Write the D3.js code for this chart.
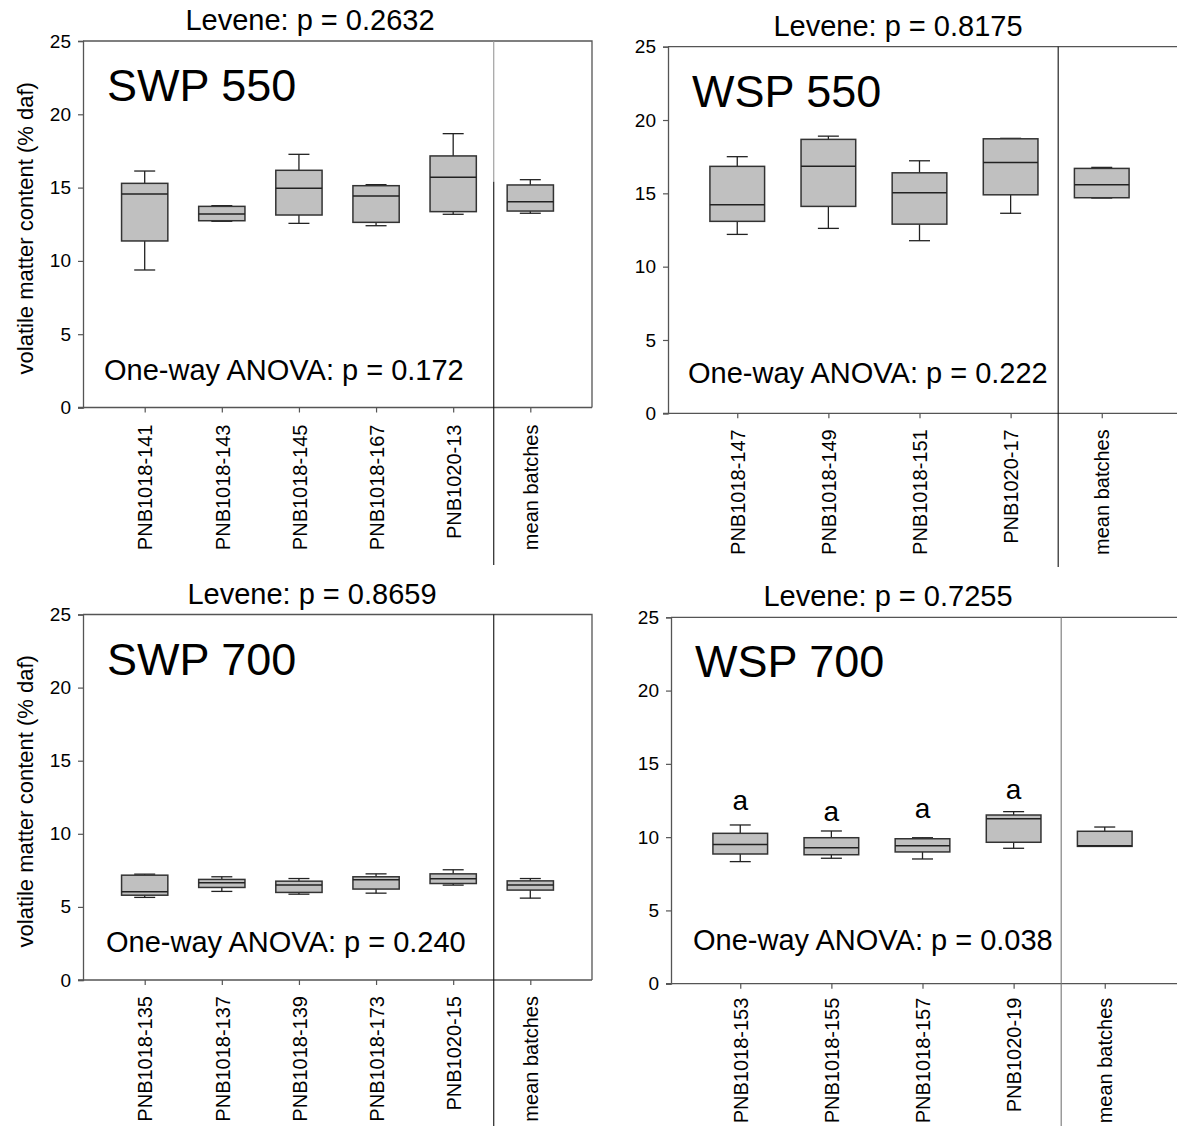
<!DOCTYPE html>
<html>
<head>
<meta charset="utf-8">
<title>Volatile matter content</title>
<script src="https://cdn.jsdelivr.net/npm/d3@7"></script>
<style>
  body { margin: 0; background: #fff; }
  svg text { font-family: "Liberation Sans", Arial, sans-serif; fill: #000; }
</style>
</head>
<body>
<div id="chart"></div>
<script>
// ---- data: [lower whisker, Q1, median, Q3, upper whisker] in % daf ----
const swp550Cats = ["PNB1018-141", "PNB1018-143", "PNB1018-145", "PNB1018-167", "PNB1020-13", "mean batches"];
const swp550Stats = [
  [9.38, 11.36, 14.56, 15.29, 16.13],
  [12.70, 12.74, 13.20, 13.72, 13.77],
  [12.56, 13.13, 14.95, 16.18, 17.27],
  [12.40, 12.63, 14.43, 15.13, 15.20],
  [13.18, 13.36, 15.70, 17.16, 18.68],
  [13.25, 13.40, 14.04, 15.18, 15.54]
];

const wsp550Cats = ["PNB1018-147", "PNB1018-149", "PNB1018-151", "PNB1020-17", "mean batches"];
const wsp550Stats = [
  [12.20, 13.09, 14.22, 16.84, 17.50],
  [12.61, 14.11, 16.84, 18.68, 18.90],
  [11.77, 12.90, 15.04, 16.40, 17.22],
  [13.64, 14.90, 17.11, 18.72, 18.75],
  [14.68, 14.70, 15.59, 16.70, 16.77]
];

const swp700Cats = ["PNB1018-135", "PNB1018-137", "PNB1018-139", "PNB1018-173", "PNB1020-15", "mean batches"];
const swp700Stats = [
  [5.65, 5.80, 6.03, 7.17, 7.24],
  [6.06, 6.33, 6.65, 6.88, 7.06],
  [5.87, 5.99, 6.49, 6.76, 6.94],
  [5.94, 6.22, 6.85, 7.06, 7.26],
  [6.49, 6.60, 6.92, 7.26, 7.54],
  [5.60, 6.15, 6.49, 6.78, 6.94]
];

const wsp700Cats = ["PNB1018-153", "PNB1018-155", "PNB1018-157", "PNB1020-19", "mean batches"];
const wsp700Stats = [
  [8.33, 8.85, 9.49, 10.26, 10.83],
  [8.56, 8.80, 9.28, 9.96, 10.42],
  [8.51, 8.99, 9.42, 9.89, 9.96],
  [9.24, 9.65, 11.26, 11.51, 11.74],
  [9.37, 9.37, 9.42, 10.40, 10.69]
];
const wsp700Letters = ["a", "a", "a", "a"];
const wsp700LetterY = [11.85, 11.1, 11.3, 12.6];

const yTicks = [0, 5, 10, 15, 20, 25];
const yTitle = "volatile matter content (% daf)";

// ---- layout ----
const panels = [
  { name: "SWP 550", levene: "Levene: p = 0.2632", anova: "One-way ANOVA: p = 0.172",
    cats: swp550Cats, stats: swp550Stats,
    x0: 83, x1: 592, frameR: 592, top: 41, bottom: 407.5, pad: 0.8, labelOff: 17,
    titleX: 310, anovaX: 104, anovaDy: 27.5, sepBottom: 565, sepColor: "#111", sepTopColor: "#999", sepSplit: 15.4, yTitle: true },
  { name: "WSP 550", levene: "Levene: p = 0.8175", anova: "One-way ANOVA: p = 0.222",
    cats: wsp550Cats, stats: wsp550Stats,
    x0: 668, x1: 1171, frameR: 1185, top: 46.7, bottom: 413.3, pad: 0.76, labelOff: 16,
    titleX: 898, anovaX: 688, anovaDy: 30.5, sepBottom: 567, sepColor: "#111", sepTopColor: "#111", sepSplit: 25, yTitle: false },
  { name: "SWP 700", levene: "Levene: p = 0.8659", anova: "One-way ANOVA: p = 0.240",
    cats: swp700Cats, stats: swp700Stats,
    x0: 83, x1: 592, frameR: 592, top: 614.5, bottom: 980, pad: 0.8, labelOff: 16,
    titleX: 312, anovaX: 106, anovaDy: 28.3, sepBottom: 1126, sepColor: "#111", sepTopColor: "#111", sepSplit: 25, yTitle: true },
  { name: "WSP 700", levene: "Levene: p = 0.7255", anova: "One-way ANOVA: p = 0.038",
    cats: wsp700Cats, stats: wsp700Stats, letters: wsp700Letters, letterY: wsp700LetterY,
    x0: 671, x1: 1174, frameR: 1185, top: 617.3, bottom: 983.7, pad: 0.76, labelOff: 14,
    titleX: 888, anovaX: 693, anovaDy: 33.7, sepBottom: 1126, sepColor: "#777", sepTopColor: "#777", sepSplit: 25, yTitle: false }
];

const svg = d3.select("#chart").append("svg")
  .attr("width", 1177)
  .attr("height", 1126);

panels.forEach(p => {
  const g = svg.append("g");
  const y = d3.scaleLinear().domain([0, 25]).range([p.bottom, p.top]);
  const x = d3.scalePoint().domain(p.cats).range([p.x0, p.x1]).padding(p.pad);
  const step = x.step();
  const boxW = step * 0.6;
  const capW = 21;

  // frame (top + right)
  g.append("path")
    .attr("d", `M${p.x0},${p.top}H${p.frameR}V${p.bottom}`)
    .attr("fill", "none").attr("stroke", "#555").attr("stroke-width", 1.3);

  // y axis
  const yAx = g.append("g")
    .attr("transform", `translate(${p.x0},0)`)
    .call(d3.axisLeft(y).tickValues(yTicks).tickSize(5).tickPadding(7).tickFormat(d3.format("d")));
  yAx.select(".domain").attr("stroke", "#555").attr("stroke-width", 1.3);
  yAx.selectAll(".tick line").attr("stroke", "#555").attr("stroke-width", 1.2);
  yAx.selectAll("text").style("font-size", "19px");

  // x axis
  const xAx = g.append("g")
    .attr("transform", `translate(0,${p.bottom})`)
    .call(d3.axisBottom(x).tickSize(5).tickSizeOuter(0));
  xAx.select(".domain").attr("d", `M${p.x0 - 5},0H${p.frameR}`).attr("stroke", "#555").attr("stroke-width", 1.3);
  xAx.selectAll(".tick line").attr("stroke", "#555").attr("stroke-width", 1.2);
  xAx.selectAll("text")
    .style("font-size", "20px")
    .attr("text-anchor", "end")
    .attr("transform", "rotate(-90)")
    .attr("x", -p.labelOff)
    .attr("y", 0)
    .attr("dy", "0.36em");

  // separator between batches and mean
  const n = p.cats.length;
  const sepX = (x(p.cats[n - 2]) + x(p.cats[n - 1])) / 2 + 2;
  g.append("line")
    .attr("x1", sepX).attr("x2", sepX)
    .attr("y1", p.top).attr("y2", y(p.sepSplit))
    .attr("stroke", p.sepTopColor).attr("stroke-width", 1.1);
  g.append("line")
    .attr("x1", sepX).attr("x2", sepX)
    .attr("y1", y(p.sepSplit)).attr("y2", p.sepBottom)
    .attr("stroke", p.sepColor).attr("stroke-width", 1.1);

  // boxes
  const box = g.selectAll("g.box")
    .data(p.stats.map((s, i) => ({ cat: p.cats[i], s })))
    .join("g").attr("class", "box")
    .attr("transform", d => `translate(${x(d.cat)},0)`);

  box.append("line")
    .attr("x1", 0).attr("x2", 0)
    .attr("y1", d => y(d.s[4])).attr("y2", d => y(d.s[3]))
    .attr("stroke", "#222").attr("stroke-width", 1.3);
  box.append("line")
    .attr("x1", 0).attr("x2", 0)
    .attr("y1", d => y(d.s[1])).attr("y2", d => y(d.s[0]))
    .attr("stroke", "#222").attr("stroke-width", 1.3);
  box.append("line")
    .attr("x1", -capW / 2).attr("x2", capW / 2)
    .attr("y1", d => y(d.s[4])).attr("y2", d => y(d.s[4]))
    .attr("stroke", "#222").attr("stroke-width", 1.3);
  box.append("line")
    .attr("x1", -capW / 2).attr("x2", capW / 2)
    .attr("y1", d => y(d.s[0])).attr("y2", d => y(d.s[0]))
    .attr("stroke", "#222").attr("stroke-width", 1.3);
  box.append("rect")
    .attr("x", -boxW / 2).attr("width", boxW)
    .attr("y", d => y(d.s[3]))
    .attr("height", d => Math.max(1, y(d.s[1]) - y(d.s[3])))
    .attr("fill", "#c0c0c0").attr("stroke", "#333").attr("stroke-width", 1.5);
  box.append("line")
    .attr("x1", -boxW / 2).attr("x2", boxW / 2)
    .attr("y1", d => y(d.s[2])).attr("y2", d => y(d.s[2]))
    .attr("stroke", "#222").attr("stroke-width", 1.5);

  // group letters
  if (p.letters) {
    g.selectAll("text.letter")
      .data(p.letters)
      .join("text").attr("class", "letter")
      .attr("x", (d, i) => x(p.cats[i]))
      .attr("y", (d, i) => y(p.letterY[i]))
      .attr("text-anchor", "middle")
      .style("font-size", "28px")
      .text(d => d);
  }

  // panel labels
  g.append("text")
    .attr("x", p.x0 + 24).attr("y", p.top + 60)
    .style("font-size", "45px")
    .text(p.name);
  g.append("text")
    .attr("x", p.anovaX).attr("y", p.bottom - p.anovaDy)
    .style("font-size", "29px")
    .text(p.anova);
  g.append("text")
    .attr("x", p.titleX).attr("y", p.top - 11)
    .attr("text-anchor", "middle")
    .style("font-size", "29px")
    .text(p.levene);

  if (p.yTitle) {
    g.append("text")
      .attr("transform", `translate(33,${(p.top + p.bottom) / 2 + 4}) rotate(-90)`)
      .attr("text-anchor", "middle")
      .style("font-size", "22px")
      .text(yTitle);
  }
});
</script>
</body>
</html>
